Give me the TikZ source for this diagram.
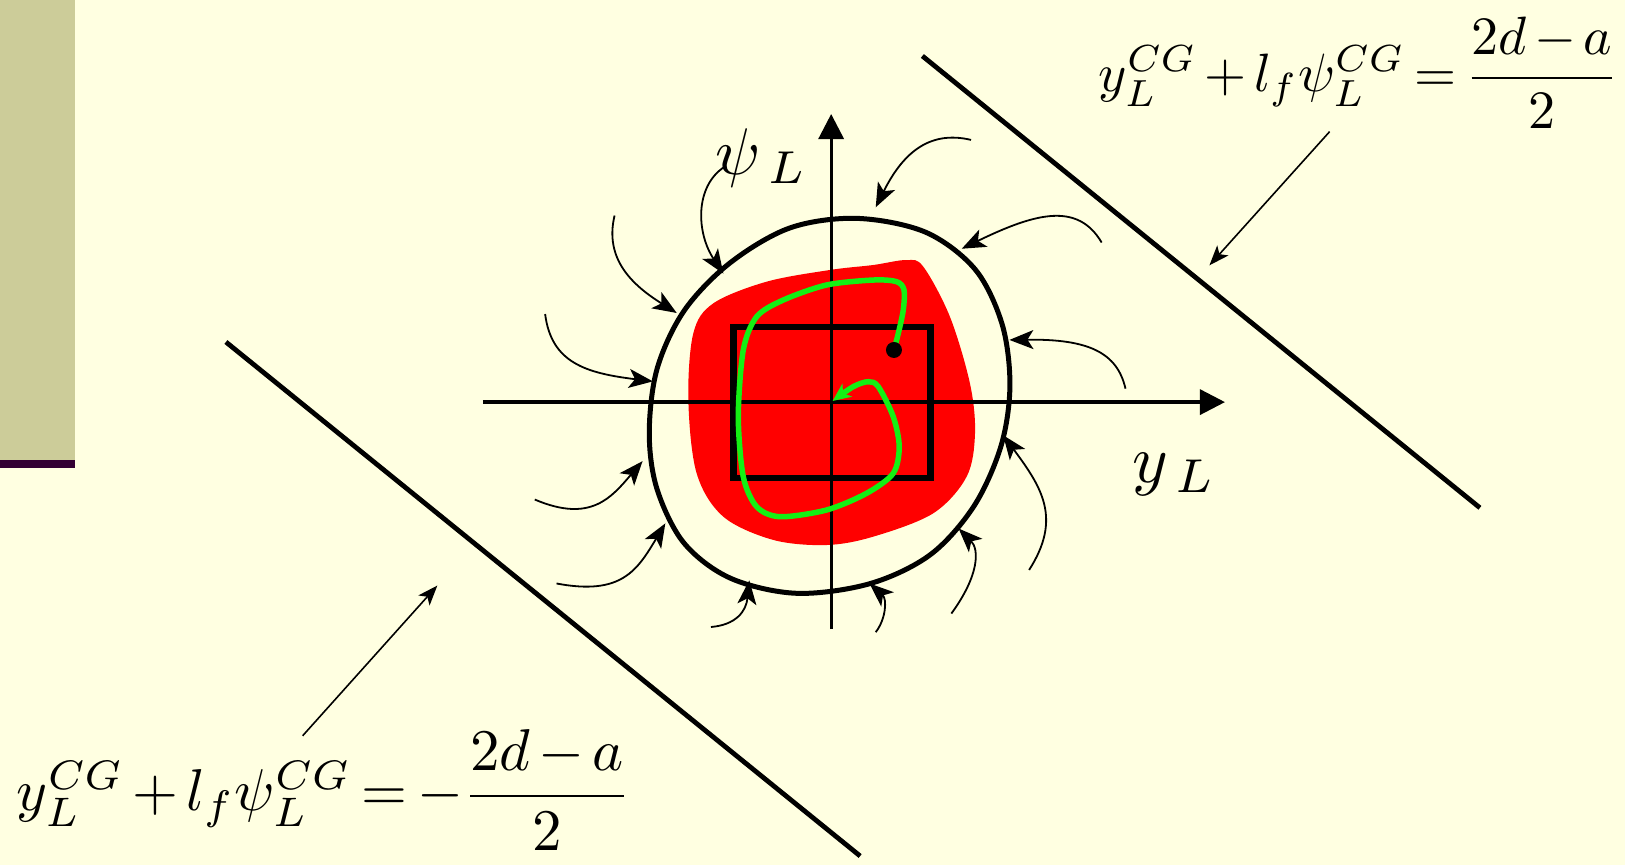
\documentclass[tikz,border=0pt]{standalone}
\usepackage{amsmath}
\usetikzlibrary{arrows.meta}
\definecolor{bg}{RGB}{255,255,225}
\definecolor{sidebar}{RGB}{204,204,153}
\definecolor{sideline}{RGB}{51,0,51}
\definecolor{blobred}{RGB}{255,0,0}
\definecolor{trajgreen}{RGB}{20,240,20}
\newcommand{\tightmath}{\thickmuskip=3mu plus 2mu\medmuskip=2.5mu plus 1mu}
\tikzset{
  axisline/.style={line width=3.3pt,-{Triangle[length=25pt,width=25pt]}},
  flowarrow/.style={line width=1.8pt,-{Stealth[length=24pt,width=19pt,inset=6pt]}},
  pointer/.style={line width=1.6pt,-{Stealth[length=20pt,width=15pt,inset=5pt]}},
  boundline/.style={line width=4.8pt},
  eqlabel/.style={inner sep=0pt,execute at begin node=\tightmath},
  axlabel/.style={inner sep=0pt}
}
\begin{document}
\begin{tikzpicture}[x=1.0364pt,y=-1.0364pt]
\fill[bg] (0,0) rectangle (1568,835);
\useasboundingbox (0,0) rectangle (1568,835);
% sidebar
\fill[sidebar] (0,0) rectangle (72,444);
\fill[sideline] (0,444) rectangle (72,452);
% red blob
\fill[blobred] plot[smooth cycle,tension=0.55] coordinates {
 (874.8,250.9) (890.9,257.3) (916.6,305.6) (935.9,369.9) (940.8,418.1)
 (932.7,460) (900.5,495.3) (842.7,517.8) (797.6,525.9) (746.2,521)
 (697.9,498.5) (672.2,456.7) (664.2,386) (669,321.6) (688.3,292.7)
 (739.7,271.8) (800.9,260.5) (842.7,255.7)};
% rectangle
\draw[line width=6.5pt] (708,315.5) rectangle (897.7,461);
% axes
\coordinate (xs) at (466,388);
\coordinate (xe) at (1182,388);
\coordinate (ys) at (802,607);
\coordinate (ye) at (802,110);
\draw[axisline] (xs) -- (xe);
\draw[axisline] (ys) -- (ye);
% outer curve
\draw[line width=5pt] plot[smooth cycle,tension=0.55] coordinates {
 (826.6,210.7) (893,224) (941,260) (967,313) (974.5,372) (966,430)
 (940,488) (898,535) (840,563) (769,572.5) (705,558) (660,524)
 (634,472) (626.5,418) (634,356) (660,300) (704,254) (762,220)};
% green trajectory
\draw[trajgreen,line width=5.5pt,-{Stealth[length=18pt,width=16pt,inset=5pt]}] plot[smooth,tension=0.5] coordinates {
 (862.6,337.7) (866.8,321.6) (871.6,299.1) (872.3,279.8) (865.2,271.8)
 (842.7,270.2) (797.6,275) (755.8,289.5) (730.1,305.6) (717.2,337.7)
 (712.4,402) (717.2,460) (730.1,488.9) (752.6,498.6) (797.6,492.1)
 (836.2,476) (861.9,456.7) (867.7,431) (861.9,402) (847.5,373.1)
 (837.8,368.3) (823.3,373.1) (803.4,386.9)};
\node[circle,fill=black,inner sep=0pt,minimum size=16pt] (start) at (862.6,337.7) {};
% boundary lines
\coordinate (ua) at (890,54);
\coordinate (ub) at (1428,490);
\coordinate (la) at (218,330);
\coordinate (lb) at (830,826);
\draw[boundline] (ua) -- (ub);
\draw[boundline] (la) -- (lb);
% labels
\node[axlabel,scale=6.6] (psiL) at (735,152) {$\psi_{\,L}$};
\node[axlabel,scale=6.8] (yL) at (1133,458) {$y_{\,L}$};
\node[eqlabel,scale=5.4,anchor=base east] (equp) at (1563,88) {$y_L^{CG}+l_f\psi_L^{CG}=\dfrac{2d-a}{2}$};
\node[eqlabel,scale=5.9,anchor=base west] (eqlo) at (15,782) {$y_L^{CG}+l_f\psi_L^{CG}=-\dfrac{2d-a}{2}$};
% pointer arrows
\coordinate (p1s) at (1283,127);
\coordinate (p1e) at (1167,256);
\coordinate (p2s) at (292,710);
\coordinate (p2e) at (422,565);
\draw[pointer] (p1s) -- (p1e);
\draw[pointer] (p2s) -- (p2e);
% flow arrows
\coordinate (f1s) at (937,135);   \coordinate (f1e) at (845,200);
\coordinate (f2s) at (1063,234);  \coordinate (f2e) at (928,240);
\coordinate (f3s) at (1086,375);  \coordinate (f3e) at (974,328);
\coordinate (f4s) at (993,550);   \coordinate (f4e) at (968,420);
\coordinate (f5s) at (918,592);   \coordinate (f5e) at (925,510);
\coordinate (f6s) at (845,610);   \coordinate (f6e) at (839,563);
\coordinate (f7s) at (686,605);   \coordinate (f7e) at (723,560);
\coordinate (f8s) at (537,563);   \coordinate (f8e) at (642,505);
\coordinate (f9s) at (516,482);   \coordinate (f9e) at (620,445);
\coordinate (f10s) at (526,303);  \coordinate (f10e) at (630,368);
\coordinate (f11s) at (593,208);  \coordinate (f11e) at (653,302);
\coordinate (f12s) at (699,161);  \coordinate (f12e) at (698,264);
\draw[flowarrow] (f1s) .. controls (895,125) and (870,150) .. (f1e);
\draw[flowarrow] (f2s) .. controls (1040,195) and (1000,205) .. (f2e);
\draw[flowarrow] (f3s) .. controls (1078,340) and (1050,327) .. (f3e);
\draw[flowarrow] (f4s) .. controls (1025,500) and (1005,470) .. (f4e);
\draw[flowarrow] (f5s) .. controls (945,555) and (945,530) .. (f5e);
\draw[flowarrow] (f6s) .. controls (855,597) and (856,578) .. (f6e);
\draw[flowarrow] (f7s) .. controls (710,603) and (720,590) .. (f7e);
\draw[flowarrow] (f8s) .. controls (600,575) and (615,550) .. (f8e);
\draw[flowarrow] (f9s) .. controls (570,505) and (590,480) .. (f9e);
\draw[flowarrow] (f10s) .. controls (532,350) and (565,360) .. (f10e);
\draw[flowarrow] (f11s) .. controls (583,250) and (610,275) .. (f11e);
\draw[flowarrow] (f12s) .. controls (670,180) and (672,225) .. (f12e);
\end{tikzpicture}
\end{document}
